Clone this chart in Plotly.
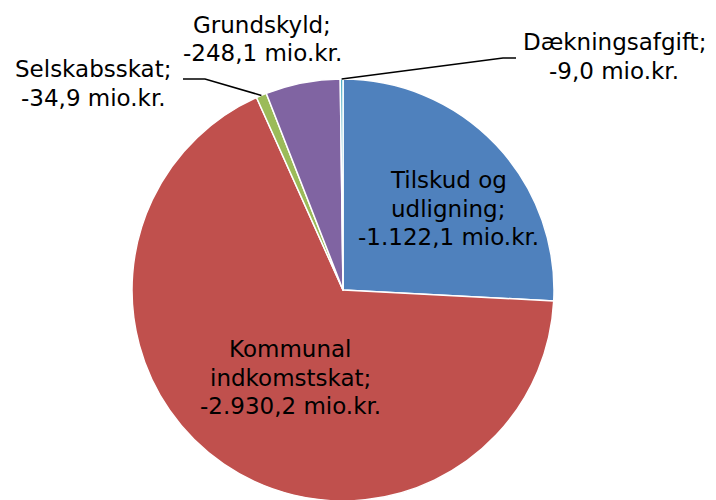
import math
import plotly.graph_objects as go

categories = ["Tilskud og udligning", "Kommunal indkomstskat", "Selskabsskat", "Grundskyld", "Dækningsafgift"]
label_lines = [["Tilskud og", "udligning;"], ["Kommunal", "indkomstskat;"], ["Selskabsskat;"], ["Grundskyld;"], ["Dækningsafgift;"]]
values = [-1122.1, -2930.2, -34.9, -248.1, -9.0]
colors = ["#4F81BD", "#C0504D", "#9BBB59", "#8064A2", "#4BACC6"]

W, H = 716, 500
OFF = 8  # page body margin in the browser
CX, CY, R = 343 - OFF, 290 - OFF, 211  # pixel geometry of the pie within the figure

def fmt(v):
    s = f"{abs(v):,.1f}".replace(",", "X").replace(".", ",").replace("X", ".")
    return ("-" if v < 0 else "") + s + " mio.kr."

fig = go.Figure(go.Pie(
    labels=categories,
    values=[abs(v) for v in values],
    sort=False,
    direction="clockwise",
    rotation=0,
    marker=dict(colors=colors, line=dict(color="white", width=1.5)),
    textinfo="none",
    hoverinfo="label+value",
    showlegend=False,
    domain=dict(x=[(CX - R) / W, (CX + R) / W], y=[(H - CY - R) / H, (H - CY + R) / H]),
))

total = sum(abs(v) for v in values)
mids = []
acc = 0
for v in values:
    a = abs(v)
    mids.append((acc + a / 2) / total * 2 * math.pi)
    acc += a

def edge(i, r=R):
    th = mids[i]
    return CX + r * math.sin(th), CY - r * math.cos(th)

FS = 23
font = dict(family="DejaVu Sans, Verdana, sans-serif", size=FS, color="black")
LS = 28.5
# (center x, first baseline y) in screen pixels of the reference
pos = {0: (448, 188), 1: (290, 357), 2: (93, 77), 3: (262, 33), 4: (614, 50)}
for i, v in enumerate(values):
    lines = label_lines[i] + [fmt(v)]
    x0, yb = pos[i]
    for k, ln in enumerate(lines):
        yc = yb + k * LS - 8 - OFF
        fig.add_annotation(x=(x0 - OFF) / W, y=1 - yc / H, xref="paper", yref="paper", text=ln,
                           showarrow=False, font=font, xanchor="center", yanchor="middle")

# leader lines
shapes = []
ex, ey = edge(2, R)
shapes.append(dict(type="path", xref="paper", yref="paper",
                   path=f"M {(183-OFF)/W},{1-(79-OFF)/H} L {(205-OFF)/W},{1-(79-OFF)/H} L {ex/W},{1-ey/H}",
                   line=dict(color="black", width=1.5)))
ex, ey = edge(4, R)
shapes.append(dict(type="path", xref="paper", yref="paper",
                   path=f"M {ex/W},{1-ey/H} L {(503-OFF)/W},{1-(58-OFF)/H} L {(516-OFF)/W},{1-(58-OFF)/H}",
                   line=dict(color="black", width=1.5)))
fig.update_layout(shapes=shapes, width=W, height=H, margin=dict(l=0, r=0, t=0, b=0),
                  paper_bgcolor="white", plot_bgcolor="white")

fig.write_html("out.html")
